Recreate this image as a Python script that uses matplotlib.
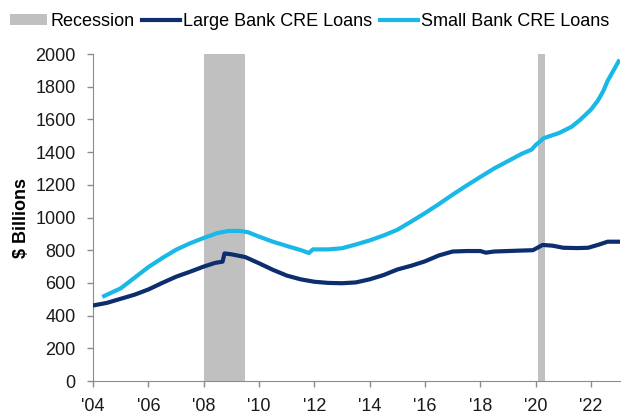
import matplotlib.pyplot as plt
from matplotlib.patches import Patch
from matplotlib.lines import Line2D

plt.rcParams["font.family"] = ["Liberation Sans", "DejaVu Sans"]

# CRE loans held by banks, $ billions
large_years = [2004.0, 2004.5, 2005.0, 2005.5, 2006.0, 2006.5, 2007.0, 2007.5,
               2008.0, 2008.4, 2008.68, 2008.75, 2009.0, 2009.5, 2010.0, 2010.5,
               2011.0, 2011.5, 2012.0, 2012.5, 2013.0, 2013.5, 2014.0, 2014.5,
               2015.0, 2015.5, 2016.0, 2016.5, 2017.0, 2017.5, 2018.0, 2018.2,
               2018.5, 2019.0, 2019.5, 2019.9, 2020.25, 2020.6, 2021.0, 2021.5,
               2021.9, 2022.3, 2022.6, 2023.0]
large_loans = [462, 478, 503, 528, 560, 600, 638, 668,
               700, 722, 730, 780, 775, 758, 720, 680,
               645, 622, 607, 600, 598, 603, 622, 648,
               682, 705, 732, 768, 792, 795, 795, 785,
               792, 795, 798, 800, 832, 828, 815, 813,
               815, 835, 852, 852]

small_years = [2004.4, 2005.0, 2005.5, 2006.0, 2006.5, 2007.0, 2007.5, 2008.0,
               2008.5, 2008.9, 2009.3, 2009.6, 2010.0, 2010.5, 2011.0, 2011.5,
               2011.8, 2011.95, 2012.5, 2013.0, 2013.5, 2014.0, 2014.5, 2015.0,
               2015.5, 2016.0, 2016.5, 2017.0, 2017.5, 2018.0, 2018.5, 2019.0,
               2019.5, 2019.85, 2020.0, 2020.3, 2020.85, 2021.3, 2021.6, 2022.0,
               2022.25, 2022.45, 2022.6, 2022.8, 2023.0]
small_loans = [520, 567, 632, 697, 752, 803, 842, 875,
               905, 918, 918, 910, 883, 852, 826, 801,
               783, 805, 805, 812, 835, 860, 890, 925,
               975, 1027, 1082, 1140, 1195, 1248, 1300, 1345,
               1390, 1415, 1443, 1486, 1517, 1555, 1596, 1660,
               1715, 1775, 1835, 1895, 1955]

recessions = [(2008.0, 2009.5), (2020.1, 2020.33)]

x_ticks = list(range(2004, 2024, 2))
x_labels = ["'%02d" % (y % 100) for y in x_ticks]

navy = "#0c2d6e"
cyan = "#1ab8e6"
grey = "#c0c0c0"
axis_grey = "#8c8c8c"

fig, ax = plt.subplots(figsize=(6.25, 4.17), dpi=100)

for start, end in recessions:
    ax.fill_between([start, end], 0, 2000, color=grey, linewidth=0, zorder=1)

ax.plot(large_years, large_loans, color=navy, linewidth=3, zorder=3)
ax.plot(small_years, small_loans, color=cyan, linewidth=3, zorder=2)

ax.set_xlim(2004, 2023.05)
ax.set_ylim(0, 2000)
ax.set_yticks(range(0, 2001, 200))
ax.set_xticks(x_ticks)
ax.set_xticklabels(x_labels)
ax.tick_params(labelsize=13, colors="#1a1a1a", length=4, width=1, color=axis_grey)
ax.tick_params(axis="y", pad=8.5)
ax.tick_params(axis="x", pad=8)
ax.set_ylabel("$ Billions", fontsize=13, fontweight="bold", labelpad=4)

for side in ["top", "right"]:
    ax.spines[side].set_visible(False)
for side in ["left", "bottom"]:
    ax.spines[side].set_color(axis_grey)

handles = [
    Patch(facecolor=grey, edgecolor="none"),
    Line2D([], [], color=navy, linewidth=3),
    Line2D([], [], color=cyan, linewidth=3),
]
labels = ["Recession", "Large Bank CRE Loans", "Small Bank CRE Loans"]
fig.legend(handles, labels, loc="upper center", bbox_to_anchor=(0.495, 1.008), ncol=3,
           frameon=False, fontsize=13, handlelength=2.1, handleheight=0.62,
           handletextpad=0.15, columnspacing=0.45)

fig.subplots_adjust(left=0.149, right=0.992, top=0.8705, bottom=0.0863)
fig.savefig("out.png", dpi=100)
